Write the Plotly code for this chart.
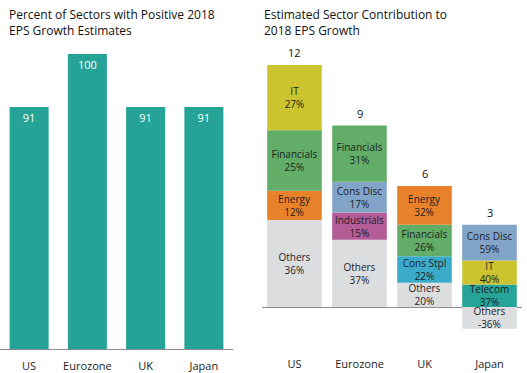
import plotly.graph_objects as go

# ---------------- data ----------------
regions = ["US", "Eurozone", "UK", "Japan"]
positive_share = [91, 100, 91, 91]          # left chart (%)
eps_growth = [12, 9, 6, 3]                  # right chart totals

# stacked layers, bottom -> top, per region
us_sectors = ["Others", "Energy", "Financials", "IT"]
us_pct = [36, 12, 25, 27]
ez_sectors = ["Others", "Industrials", "Cons Disc", "Financials"]
ez_pct = [37, 15, 17, 31]
uk_sectors = ["Others", "Cons Stpl", "Financials", "Energy"]
uk_pct = [20, 22, 26, 32]
jp_sectors = ["Others", "Telecom", "IT", "Cons Disc"]
jp_pct = [-36, 37, 40, 59]

sector_colors = {
    "Others": "#DCDDDF",
    "Energy": "#E8822A",
    "Financials": "#62AD67",
    "IT": "#CBC42F",
    "Industrials": "#B45C98",
    "Cons Disc": "#82A4C9",
    "Cons Stpl": "#3AABCB",
    "Telecom": "#25A497",
}
teal = "#26A397"
axis_grey = "#8C8C8C"
FONT = "Open Sans"

W, H = 527, 373

def px_x(a, b):
    return [a / W, b / W]

def px_y(top, bottom):
    return [(H - bottom) / H, (H - top) / H]

fig = go.Figure()

# ---------------- left chart ----------------
fig.add_trace(go.Bar(
    x=regions, y=positive_share, xaxis="x", yaxis="y",
    marker=dict(color=teal, line=dict(width=0)),
    text=[str(v) for v in positive_share],
    textposition="inside", insidetextanchor="end", textangle=0,
    constraintext="none",
    textfont=dict(color="white", size=11, family=FONT),
    width=0.67, showlegend=False, hoverinfo="x+y",
))

# ---------------- right chart ----------------
region_sectors = [us_sectors, ez_sectors, uk_sectors, jp_sectors]
region_pcts = [us_pct, ez_pct, uk_pct, jp_pct]
n_layers = 4
for layer in range(n_layers):
    vals, texts, cols = [], [], []
    for r, total in enumerate(eps_growth):
        s = region_sectors[r][layer]
        p = region_pcts[r][layer]
        vals.append(total * p / 100.0)
        texts.append(f"{s}<br>{p}%")
        cols.append(sector_colors[s])
    fig.add_trace(go.Bar(
        x=regions, y=vals, xaxis="x2", yaxis="y2",
        marker=dict(color=cols, line=dict(width=0)),
        text=texts, textposition="inside", insidetextanchor="middle",
        textangle=0, constraintext="none",
        textfont=dict(color="#1E1E1E", size=10, family=FONT),
        width=0.84, showlegend=False, hoverinfo="x+y",
    ))

annotations = []
for r, total in enumerate(eps_growth):
    pos_top = sum(total * p / 100.0 for p in region_pcts[r] if p > 0)
    annotations.append(dict(
        x=regions[r], y=pos_top, xref="x2", yref="y2",
        text=str(total), showarrow=False, yanchor="bottom", yshift=3,
        font=dict(size=11, color="#111111", family=FONT),
    ))

annotations.append(dict(
    x=7 / W, y=1 - 4 / H, xref="paper", yref="paper", xanchor="left", yanchor="top",
    text="Percent of Sectors with Positive 2018<br>EPS Growth Estimates",
    showarrow=False, align="left",
    font=dict(size=12, color="#111111", family=FONT),
))
annotations.append(dict(
    x=262 / W, y=1 - 4 / H, xref="paper", yref="paper", xanchor="left", yanchor="top",
    text="Estimated Sector Contribution to<br>2018 EPS Growth",
    showarrow=False, align="left",
    font=dict(size=12, color="#111111", family=FONT),
))

# right y-range from pixel geometry: zero at y=307, 12 at y=65
unit = (307 - 65) / 12.0
r_top, r_bottom = 54, 349
y2_range = [-(r_bottom - 307) / unit, 12 + (65 - r_top) / unit]

fig.update_layout(
    width=W, height=H,
    margin=dict(l=0, r=0, t=0, b=0),
    paper_bgcolor="white", plot_bgcolor="white",
    barmode="relative",
    font=dict(family=FONT, size=11, color="#222222"),
    xaxis=dict(domain=px_x(0, 233), showgrid=False, showline=True,
               linecolor=axis_grey, linewidth=1, ticks="",
               tickfont=dict(size=11, color="#222222", family=FONT),
               ticklabelstandoff=7, anchor="y"),
    yaxis=dict(domain=px_y(54, 349), range=[50, 100], visible=False,
               anchor="x"),
    xaxis2=dict(domain=px_x(262, 522), showgrid=False, showline=False,
                ticks="", anchor="y2",
                tickfont=dict(size=11, color="#222222", family=FONT),
                ticklabelstandoff=7),
    yaxis2=dict(domain=px_y(r_top, r_bottom), range=y2_range,
                showgrid=False, showticklabels=False, showline=False,
                zeroline=True, zerolinecolor=axis_grey, zerolinewidth=1,
                anchor="x2"),
    annotations=annotations,
)

fig.write_html(
    "out.html",
    config={"displayModeBar": False},
    post_script="document.body.style.margin='0';document.body.style.overflow='hidden';",
)
